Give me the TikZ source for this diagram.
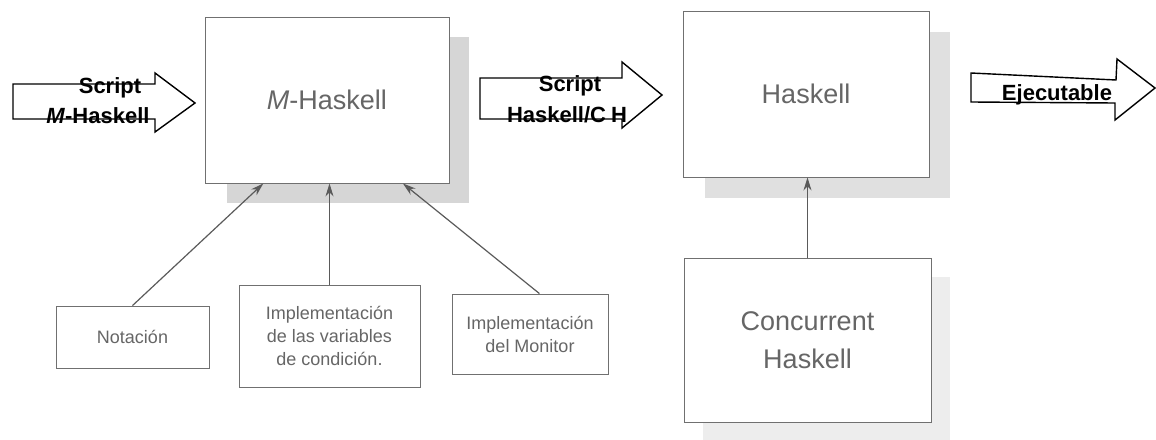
\documentclass[tikz,border=0pt]{standalone}
\usepackage{fontspec}
\setmainfont{Liberation Sans}
\usetikzlibrary{arrows.meta,calc,backgrounds}

\definecolor{boxline}{HTML}{707070}
\definecolor{boxtext}{HTML}{666666}
\definecolor{link}{HTML}{5A5A5A}

\tikzset{
  stage/.style={draw=boxline, line width=0.9pt, fill=white, inner sep=0pt,
    align=center, text=boxtext, font=\fontsize{27}{38}\selectfont},
  part/.style={draw=boxline, line width=0.9pt, fill=white, inner sep=0pt,
    align=center, text=boxtext, font=\fontsize{18}{23}\selectfont},
  feed/.style={draw=link, line width=1.2pt, -{Stealth[length=13pt,width=8pt]}},
  flowarrow/.style={draw=black, line width=1.4pt, fill=white, line join=miter},
  flowtext/.style={inner sep=0pt, anchor=base, font=\bfseries\fontsize{22}{24}\selectfont},
  shade/.style={fill=black!#1}
}

\begin{document}
\begin{tikzpicture}[x=1pt,y=-1pt]
\useasboundingbox (0,0) rectangle (1156,439);

% main processing stages
\node[stage, minimum width=244pt, minimum height=166pt] (mh) at (327,100) {\textit{M}-Haskell};
\node[stage, minimum width=246pt, minimum height=166pt] (hk) at (806,94) {Haskell};
\node[stage, minimum width=247pt, minimum height=164pt] (chk) at (807.5,340) {Concurrent\\Haskell};

% components feeding M-Haskell
\node[part, minimum width=153pt, minimum height=62pt] (nota) at (132.5,337) {Notación};
\node[part, minimum width=181pt, minimum height=102pt] (var) at (329.5,336)
  {Implementación\\de las variables\\de condición.};
\node[part, minimum width=156pt, minimum height=80pt] (mon) at (530,334)
  {Implementación\\del Monitor};

% drop shadows
\begin{scope}[on background layer]
  \fill[shade=16] ($(mh.south west)+(22,20)$) rectangle ($(mh.north east)+(20,20)$);
  \fill[shade=12] ($(hk.south west)+(22,21)$) rectangle ($(hk.north east)+(21,21)$);
  \fill[shade=7] ($(chk.south west)+(19,18)$) rectangle ($(chk.north east)+(19,19)$);
\end{scope}

% connectors
\draw[feed] (nota.north) -- ($(mh.south west)!0.24!(mh.south east)$);
\draw[feed] (var.north) -- (var.north |- mh.south);
\draw[feed] ($(mon.north west)!0.56!(mon.north east)$) -- ($(mh.south west)!0.81!(mh.south east)$);
\draw[feed] (chk.north) -- (chk.north |- hk.south);

% block arrows between the stages
\draw[flowarrow] (13,84) -- (155,84) -- (155,73) -- (195,103) -- (155,132)
  -- (155,119) -- (13,119) -- cycle;
\node[flowtext] (s1a) at (110,93) {Script};
\node[flowtext] (s1b) at (98,123) {\textit{M}-Haskell};

\draw[flowarrow] (480,78) -- (622,78) -- (622,62) -- (662,95) -- (622,128)
  -- (622,119) -- (480,119) -- cycle;
\node[flowtext] (s2a) at (570,91) {Script};
\node[flowtext] (s2b) at (567,122) {Haskell/C\hspace{5pt}H};

\draw[flowarrow] (971,73) -- (1116,80) -- (1117,59) -- (1155,88) -- (1115,120)
  -- (1115,103) -- (971,102) -- cycle;
\node[flowtext] (ex) at (1057,100) {Ejecutable};
\end{tikzpicture}
\end{document}
